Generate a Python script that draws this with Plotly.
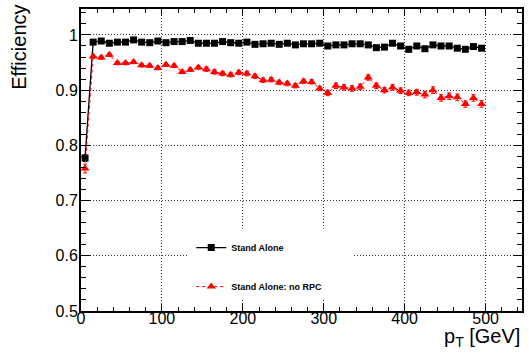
import plotly.graph_objects as go

# Muon reconstruction efficiency vs transverse momentum (10 GeV bins)
pt_gev = [5, 15, 25, 35, 45, 55, 65, 75, 85, 95,
          105, 115, 125, 135, 145, 155, 165, 175, 185, 195,
          205, 215, 225, 235, 245, 255, 265, 275, 285, 295,
          305, 315, 325, 335, 345, 355, 365, 375, 385, 395,
          405, 415, 425, 435, 445, 455, 465, 475, 485, 495]

eff_standalone = [0.777, 0.987, 0.989, 0.985, 0.987, 0.987, 0.991, 0.987, 0.986, 0.989,
                  0.986, 0.988, 0.988, 0.990, 0.985, 0.985, 0.985, 0.988, 0.986, 0.985,
                  0.987, 0.983, 0.984, 0.985, 0.983, 0.985, 0.982, 0.984, 0.984, 0.985,
                  0.980, 0.982, 0.982, 0.984, 0.984, 0.982, 0.977, 0.978, 0.985, 0.980,
                  0.974, 0.980, 0.975, 0.982, 0.980, 0.980, 0.976, 0.974, 0.979, 0.976]

err_standalone = [0.006, 0.001, 0.001, 0.001, 0.001, 0.001, 0.001, 0.001, 0.001, 0.001,
                  0.001, 0.001, 0.001, 0.001, 0.001, 0.001, 0.001, 0.001, 0.002, 0.002,
                  0.002, 0.002, 0.002, 0.002, 0.002, 0.002, 0.002, 0.002, 0.002, 0.002,
                  0.002, 0.002, 0.002, 0.002, 0.002, 0.002, 0.002, 0.002, 0.002, 0.002,
                  0.002, 0.002, 0.002, 0.002, 0.002, 0.002, 0.002, 0.002, 0.002, 0.002]

eff_no_rpc = [0.758, 0.961, 0.959, 0.964, 0.949, 0.949, 0.951, 0.945, 0.944, 0.940,
              0.946, 0.944, 0.933, 0.937, 0.941, 0.938, 0.933, 0.930, 0.928, 0.932,
              0.930, 0.925, 0.918, 0.919, 0.914, 0.912, 0.908, 0.916, 0.915, 0.903,
              0.895, 0.908, 0.905, 0.903, 0.906, 0.923, 0.908, 0.900, 0.905, 0.899,
              0.895, 0.896, 0.892, 0.900, 0.886, 0.889, 0.887, 0.875, 0.886, 0.875]

err_no_rpc = [0.008, 0.003, 0.003, 0.003, 0.003, 0.003, 0.003, 0.003, 0.003, 0.003,
              0.003, 0.003, 0.003, 0.003, 0.003, 0.004, 0.004, 0.004, 0.004, 0.004,
              0.004, 0.004, 0.004, 0.004, 0.004, 0.004, 0.004, 0.004, 0.004, 0.004,
              0.005, 0.005, 0.005, 0.005, 0.005, 0.005, 0.005, 0.005, 0.005, 0.005,
              0.005, 0.005, 0.006, 0.006, 0.006, 0.006, 0.006, 0.006, 0.006, 0.006]

FONT = "Liberation Sans, Arial, Helvetica, sans-serif"

fig = go.Figure()

fig.add_trace(go.Scatter(
    x=pt_gev, y=eff_standalone, name="Stand Alone", mode="lines+markers",
    line=dict(color="black", width=1.3),
    marker=dict(symbol="square", size=7, color="black"),
    error_y=dict(type="data", array=err_standalone, color="black", thickness=1, width=2),
    legendgroup="a",
))

fig.add_trace(go.Scatter(
    x=pt_gev, y=eff_no_rpc, name="Stand Alone: no RPC", mode="lines+markers",
    line=dict(color="#ff0000", width=1, dash="3px,3px"),
    marker=dict(symbol="triangle-up", size=8, color="#ff0000"),
    error_y=dict(type="data", array=err_no_rpc, color="#ff0000", thickness=1, width=2),
    legendgroup="b",
))

axis_common = dict(
    showline=True, linecolor="black", linewidth=2, mirror="ticks",
    ticks="inside", tickcolor="black", tickwidth=1,
    showgrid=True, gridcolor="#333333", gridwidth=1, griddash="1px,2px",
    zeroline=False,
    tickfont=dict(family=FONT, size=16, color="black"),
)

fig.update_xaxes(
    **axis_common, range=[0, 545], tick0=0, dtick=100, ticklen=7,
    ticklabelstandoff=-8,
    minor=dict(dtick=20, ticklen=4, ticks="inside", tickcolor="black", showgrid=False),
)
fig.update_yaxes(
    **axis_common, range=[0.5, 1.047], tick0=0.5, dtick=0.1, ticklen=9,
    ticklabelstandoff=-2,
    minor=dict(dtick=0.02, ticklen=5, ticks="inside", tickcolor="black", showgrid=False),
)

# white legend pad hiding the grid behind the entries
fig.add_shape(type="rect", xref="paper", yref="paper",
              x0=0.245, x1=0.617, y0=0.037, y1=0.272,
              fillcolor="white", line=dict(width=0), layer="above")

fig.update_layout(
    width=529, height=356,
    margin=dict(l=81, r=5, t=9, b=45),
    paper_bgcolor="white", plot_bgcolor="white",
    font=dict(family=FONT, color="black"),
    showlegend=True,
    legend=dict(
        x=0.25, y=0.258, xanchor="left", yanchor="top",
        bgcolor="rgba(0,0,0,0)", borderwidth=0,
        font=dict(family=FONT, size=9, color="black", weight="bold"),
        tracegroupgap=20, itemwidth=30,
    ),
    annotations=[
        dict(text="Efficiency", textangle=-90, xref="paper", yref="paper",
             x=-0.14, y=1.02, xanchor="center", yanchor="top", showarrow=False,
             font=dict(family=FONT, size=20, color="black")),
        dict(text="p<sub>T</sub> [GeV]", xref="paper", yref="paper",
             x=0.999, y=-0.041, xanchor="right", yanchor="top", showarrow=False,
             font=dict(family=FONT, size=20, color="black")),
    ],
)

fig.write_html("out.html")
